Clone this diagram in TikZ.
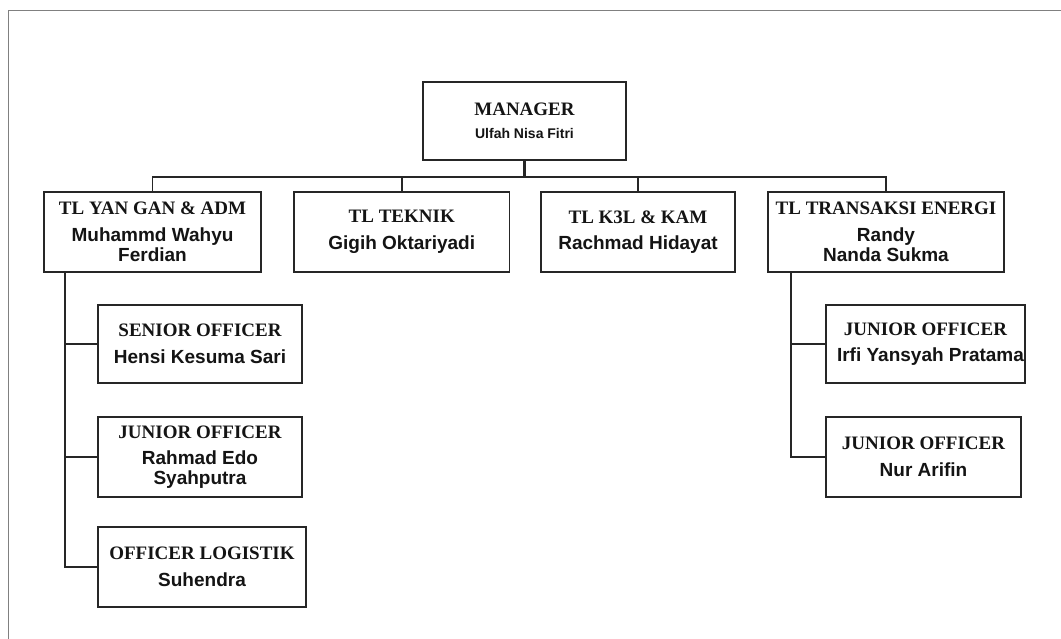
\documentclass[tikz,border=0pt]{standalone}
\usepackage{fontspec}
\setmainfont{Liberation Serif}
\newfontfamily\namefont{Liberation Sans}
\begin{document}
\begin{tikzpicture}[x=1pt,y=-1pt,
  box/.style={draw=black!85, line width=1.8pt, inner sep=0pt, align=center,
    font=\fontsize{19}{20}\selectfont, text=black!92},
  link/.style={draw=black!85, line width=1.7pt},
  frame/.style={draw=black!50, line width=1.6pt}]
\useasboundingbox (0,0) rectangle (1061,639);
\fill[white] (0,0) rectangle (1061,639);
\coordinate (fbl) at (8.5,640);
\coordinate (ftl) at (8.5,10.5);
\coordinate (ftr) at (1062,10.5);
\draw[frame] (fbl) -- (ftl) -- (ftr);

\newcommand{\ttl}[1]{{\bfseries #1}}
\newcommand{\nm}[1]{{\namefont\bfseries #1}}

% manager
\node[box, minimum width=203pt, minimum height=78pt] (mgr) at (524.5,121)
  {\ttl{MANAGER}\\[3.3pt]{\namefont\bfseries\fontsize{14}{16}\selectfont Ulfah Nisa Fitri}};

% team leaders
\node[box, minimum width=217pt, minimum height=80pt] (yan) at (152.5,232)
  {\ttl{TL YAN GAN \& ADM}\\[6.5pt]\nm{Muhammd Wahyu}\\\nm{Ferdian}};
\node[box, minimum width=215.5pt, minimum height=80pt] (tek) at (401.75,232)
  {\ttl{TL TEKNIK}\\[6.5pt]\nm{Gigih Oktariyadi}};
\node[box, minimum width=194pt, minimum height=80pt] (k3l) at (638,232)
  {\ttl{TL K3L \& KAM}\\[6.5pt]\nm{Rachmad Hidayat}};
\node[box, minimum width=236pt, minimum height=80pt] (trans) at (886,232)
  {\ttl{TL TRANSAKSI ENERGI}\\[6.5pt]\nm{Randy}\\\nm{Nanda Sukma}};

% left staff
\node[box, minimum width=204pt, minimum height=78pt] (senior) at (200,344)
  {\ttl{SENIOR OFFICER}\\[6.5pt]\nm{Hensi Kesuma Sari}};
\node[box, minimum width=204pt, minimum height=80pt] (junl) at (200,457)
  {\ttl{JUNIOR OFFICER}\\[6.5pt]\nm{Rahmad Edo}\\\nm{Syahputra}};
\node[box, minimum width=208pt, minimum height=80pt] (logi) at (202,567)
  {\ttl{OFFICER LOGISTIK}\\[6.5pt]\nm{Suhendra}};

% right staff
\node[box, minimum width=199pt, minimum height=78pt] (junr1) at (925.5,344)
  {\ttl{JUNIOR OFFICER}\\[6.5pt]\makebox[0pt]{\hspace*{10pt}\nm{Irfi Yansyah Pratama}}};
\node[box, minimum width=195pt, minimum height=80pt] (junr2) at (923.5,457)
  {\ttl{JUNIOR OFFICER}\\[6.5pt]\nm{Nur Arifin}};

% bus
\coordinate (busy) at (0,177);
\draw[link, line width=2.6pt] (mgr.south) -- (mgr.south |- busy);
\draw[link] (yan.north) -- (yan.north |- busy) -- (trans.north |- busy) -- (trans.north);
\draw[link] (tek.north) -- (tek.north |- busy);
\draw[link] (k3l.north) -- (k3l.north |- busy);

% left tree
\coordinate (ltop) at ([xshift=21.7pt]yan.south west);
\draw[link] (ltop) |- (logi.west);
\draw[link] (ltop |- senior.west) -- (senior.west);
\draw[link] (ltop |- junl.west) -- (junl.west);

% right tree
\coordinate (rtop) at ([xshift=23.7pt]trans.south west);
\draw[link] (rtop) |- (junr2.west);
\draw[link] (rtop |- junr1.west) -- (junr1.west);
\end{tikzpicture}
\end{document}
